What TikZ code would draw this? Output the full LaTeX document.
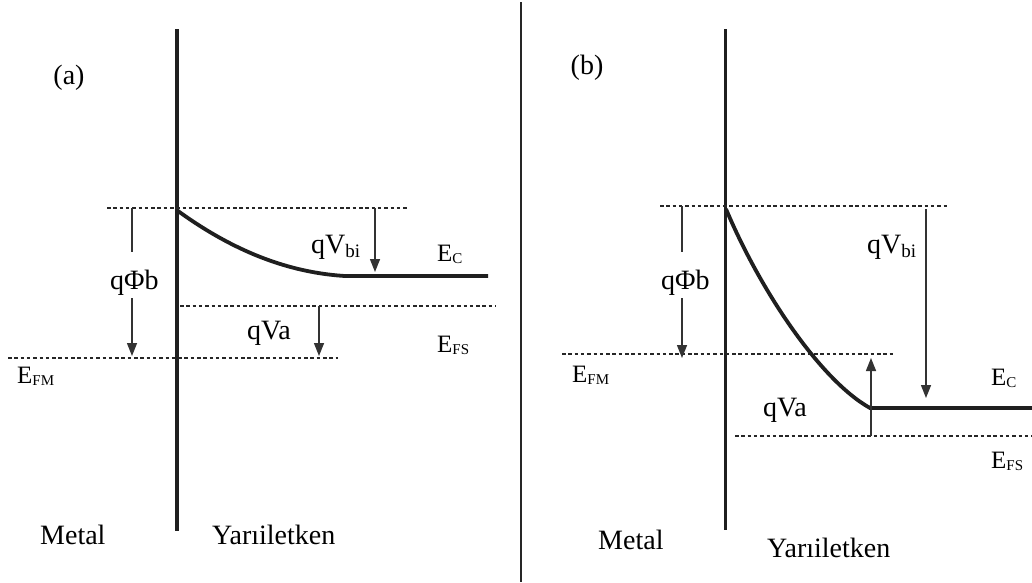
\documentclass[tikz,border=0pt]{standalone}
\usepackage{fontspec}
\setmainfont{Liberation Serif}
\usetikzlibrary{arrows.meta}
\newcommand\lblf{\fontsize{28}{30}\selectfont}
\newcommand\ef{\fontsize{25}{27}\selectfont}
\newcommand\Esub[1]{E\raisebox{-2pt}{\fontsize{15}{16}\selectfont #1}}
\newcommand\Vbi{qV\raisebox{-4pt}{\fontsize{19}{20}\selectfont bi}}
\begin{document}
\begin{tikzpicture}[x=1pt,y=-1pt,
  lbl/.style={inner sep=0pt,font=\lblf,text=black},
  elbl/.style={inner sep=0pt,font=\ef,text=black,anchor=base west},
  thick line/.style={line width=3.8pt,draw=black!88},
  dotline/.style={line width=2pt,draw=black!85,dash pattern=on 3.5pt off 2.8pt},
  arr/.style={line width=1.4pt,draw=black!80,-{Triangle[length=13pt,width=10pt]}},
  plain/.style={line width=1.4pt,draw=black!80}]
\useasboundingbox (0,0) rectangle (1032,582);
\fill[white] (0,0) rectangle (1032,582);

% separator
\coordinate (sepT) at (521,2);
\coordinate (sepB) at (521,582);
\draw[line width=1.6pt,black!85] (sepT) -- (sepB);

%%%%%%%%%% panel (a)
\node[lbl] (la) at (69,78) {(a)};
\coordinate (vaT) at (177,29);
\coordinate (vaB) at (177,531);
\draw[thick line] (vaT) -- (vaB);

% dotted levels
\coordinate (a1L) at (107,208); \coordinate (a1R) at (407,208);
\coordinate (a2L) at (180,306); \coordinate (a2R) at (496,306);
\coordinate (a3L) at (8,358);   \coordinate (a3R) at (338,358);
\draw[dotline] (a1L) -- (a1R);
\draw[dotline] (a2L) -- (a2R);
\draw[dotline] (a3L) -- (a3R);

% band
\coordinate (aC0) at (178,211);
\coordinate (aC1) at (345,276);
\coordinate (aC2) at (488,276);
\draw[thick line] (aC0) .. controls (225,245) and (280,272) .. (aC1) -- (aC2);

% qPhi b
\node[lbl,anchor=base west] (qpa) at (110,289) {qΦb};
\coordinate (qpaT) at (132,208);
\coordinate (qpaU) at (132,252);
\coordinate (qpaL) at (132,298);
\coordinate (qpaB) at (132,356);
\draw[plain] (qpaT) -- (qpaU);
\draw[arr] (qpaL) -- (qpaB);

% qVbi
\node[lbl,anchor=base west] (qva) at (311,253) {\Vbi};
\coordinate (qbaT) at (375,208);
\coordinate (qbaB) at (375,272);
\draw[arr] (qbaT) -- (qbaB);

% qVa
\node[lbl,anchor=base west] (qvaa) at (247,339) {qVa};
\coordinate (qaaT) at (319,306);
\coordinate (qaaB) at (319,356);
\draw[arr] (qaaT) -- (qaaB);

\node[elbl] (eca) at (437,261) {\Esub{C}};
\node[elbl] (efsa) at (437,352) {\Esub{FS}};
\node[elbl] (efma) at (17,383) {\Esub{FM}};

\node[lbl,anchor=base west] (meta) at (40,544) {Metal};
\node[lbl,anchor=base west] (yara) at (212,544) {Yarıiletken};

%%%%%%%%%% panel (b)
\node[lbl] (lb) at (587,68) {(b)};
\coordinate (vbT) at (725.5,29);
\coordinate (vbB) at (725.5,530);
\draw[thick line] (vbT) -- (vbB);

\coordinate (b1L) at (660,206); \coordinate (b1R) at (947,206);
\coordinate (b2L) at (562,354); \coordinate (b2R) at (893,354);
\coordinate (b3L) at (735,436); \coordinate (b3R) at (1032,436);
\draw[dotline] (b1L) -- (b1R);
\draw[dotline] (b2L) -- (b2R);
\draw[dotline] (b3L) -- (b3R);

\coordinate (bC0) at (726,209);
\coordinate (bC1) at (870,408);
\coordinate (bC2) at (1032,408);
\draw[thick line] (bC0) .. controls (760,290) and (820,380) .. (bC1) -- (bC2);

\node[lbl,anchor=base west] (qpb) at (661,289) {qΦb};
\coordinate (qpbT) at (682,206);
\coordinate (qpbU) at (682,252);
\coordinate (qpbL) at (682,298);
\coordinate (qpbB) at (682,358);
\draw[plain] (qpbT) -- (qpbU);
\draw[arr] (qpbL) -- (qpbB);

\node[lbl,anchor=base west] (qvb) at (867,253) {\Vbi};
\coordinate (qbbT) at (926,209);
\coordinate (qbbB) at (926,398);
\draw[arr] (qbbT) -- (qbbB);

\node[lbl,anchor=base west] (qvab) at (763,416) {qVa};
\coordinate (qabB) at (871,436);
\coordinate (qabT) at (871,358);
\draw[arr] (qabB) -- (qabT);

\node[elbl] (ecb) at (991,385) {\Esub{C}};
\node[elbl] (efsb) at (991,468) {\Esub{FS}};
\node[elbl] (efmb) at (572,382) {\Esub{FM}};

\node[lbl,anchor=base west] (metb) at (598,549) {Metal};
\node[lbl,anchor=base west] (yarb) at (767,557) {Yarıiletken};
\end{tikzpicture}
\end{document}
